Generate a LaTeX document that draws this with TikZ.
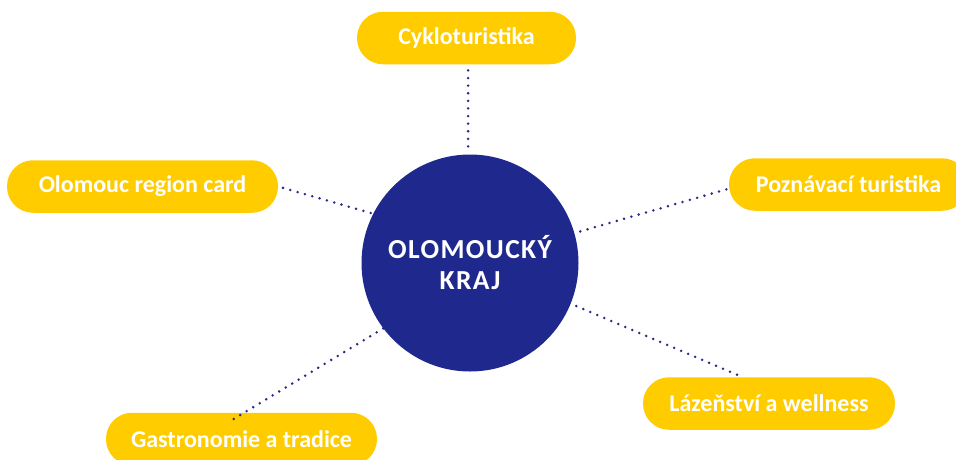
\documentclass[tikz,border=0pt]{standalone}
\usepackage{fontspec}
\setmainfont{Carlito}
\definecolor{pillyellow}{RGB}{255,204,0}
\definecolor{hubnavy}{RGB}{31,40,140}
\definecolor{dotblue}{RGB}{40,44,135}
\begin{document}
\begin{tikzpicture}[x=1pt,y=-1pt,
  pill/.style={fill=pillyellow, rounded corners=26pt, minimum height=52.5pt,
    inner sep=0pt, text=white, font=\fontsize{24}{28}\selectfont\bfseries},
  hubnode/.style={circle, fill=hubnavy, minimum size=217pt, inner sep=0pt,
    text=white, align=center,
    font=\fontsize{27.5}{31}\selectfont\bfseries\addfontfeature{LetterSpace=5}},
  dotline/.style={draw=dotblue, line width=2.8pt, line cap=round,
    dash pattern=on 0pt off 7.6pt}]
\useasboundingbox (0,0) rectangle (956,459);
\clip (0,0) rectangle (956,459);

% topic pills
\node[pill, minimum width=219pt] (cyk)    at (466.5,38)  {Cykloturistika};
\node[pill, minimum width=271pt] (card)   at (142.5,186.5) {Olomouc region card};
\node[pill, minimum width=239pt] (pozn)   at (848.5,184.5) {Poznávací turistika};
\node[pill, minimum width=271pt] (gastro) at (241.5,439) {Gastronomie a tradice};
\node[pill, minimum width=252pt] (laz)    at (769,403.5) {Lázeňství a wellness};

% outline of the central disc, used for the spoke anchors
\coordinate (hubc) at (470,263);
\coordinate (gastroTip) at (232,420);
\path (hubc) node[circle, minimum size=217pt, inner sep=0pt] (hubshape) {};

% dotted spokes
\draw[dotline, shorten <=6pt, shorten >=3pt] (cyk.south -| hubshape.91) -- (hubshape.91);
\draw[dotline, shorten <=5pt] (card.east) -- (hubshape.153);
\draw[dotline, shorten <=6pt] (hubshape.16) -- (pozn.182);
\draw[dotline] (hubshape.217) -- (gastroTip);
\draw[dotline, shorten <=6pt] (hubshape.-22.5) -- (laz.135);

% central disc
\node[hubnode] (hub) at (hubc) {OLOMOUCKÝ\\KRAJ};
\end{tikzpicture}
\end{document}
